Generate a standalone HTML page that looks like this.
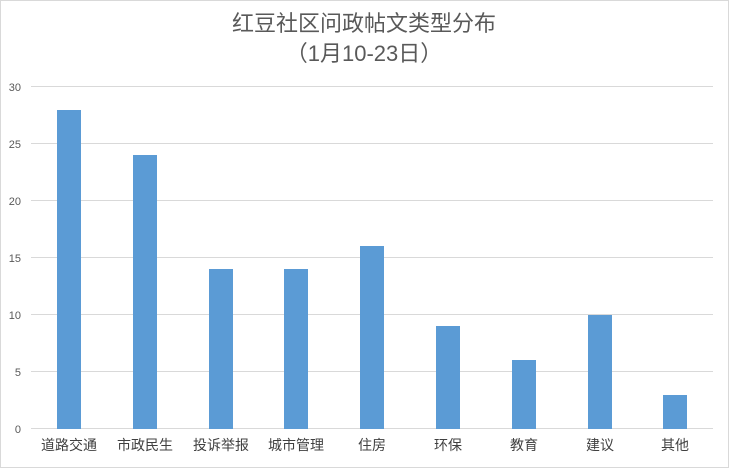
<!DOCTYPE html>
<html><head><meta charset="utf-8"><style>
body{margin:0;background:#fff;}
</style></head><body>
<svg width="729" height="468" xmlns="http://www.w3.org/2000/svg" font-family="'Liberation Sans','Noto Sans CJK SC',sans-serif">
<rect x="0.5" y="0.5" width="728" height="467" fill="#fff" stroke="#d9d9d9"/>
<text x="364" y="31" text-anchor="middle" font-size="22" fill="#595959">红豆社区问政帖文类型分布</text>
<text x="364" y="61" text-anchor="middle" font-size="22" fill="#595959">（1月10-23日）</text>
<g stroke="#d9d9d9" stroke-width="1">
<line x1="31" x2="713" y1="86.5" y2="86.5"/>
<line x1="31" x2="713" y1="143.5" y2="143.5"/>
<line x1="31" x2="713" y1="200.5" y2="200.5"/>
<line x1="31" x2="713" y1="257.5" y2="257.5"/>
<line x1="31" x2="713" y1="314.5" y2="314.5"/>
<line x1="31" x2="713" y1="371.5" y2="371.5"/>
<line x1="31" x2="713" y1="428.5" y2="428.5"/>
</g>
<g font-size="11" fill="#595959" text-anchor="end">
<text x="21" y="91">30</text><text x="21" y="148">25</text><text x="21" y="205">20</text>
<text x="21" y="262">15</text><text x="21" y="319">10</text><text x="21" y="376">5</text><text x="21" y="433">0</text>
</g>
<g fill="#5b9bd5">
<rect x="57" y="110" width="24" height="319"/>
<rect x="133" y="155" width="24" height="274"/>
<rect x="209" y="269" width="24" height="160"/>
<rect x="284" y="269" width="24" height="160"/>
<rect x="360" y="246" width="24" height="183"/>
<rect x="436" y="326" width="24" height="103"/>
<rect x="512" y="360" width="24" height="69"/>
<rect x="588" y="315" width="24" height="114"/>
<rect x="663" y="395" width="24" height="34"/>
</g>
<g font-size="14" fill="#404040" text-anchor="middle">
<text x="69" y="450">道路交通</text><text x="145" y="450">市政民生</text><text x="221" y="450">投诉举报</text>
<text x="296" y="450">城市管理</text><text x="372" y="450">住房</text><text x="448" y="450">环保</text>
<text x="524" y="450">教育</text><text x="600" y="450">建议</text><text x="675" y="450">其他</text>
</g>
</svg>
</body></html>
